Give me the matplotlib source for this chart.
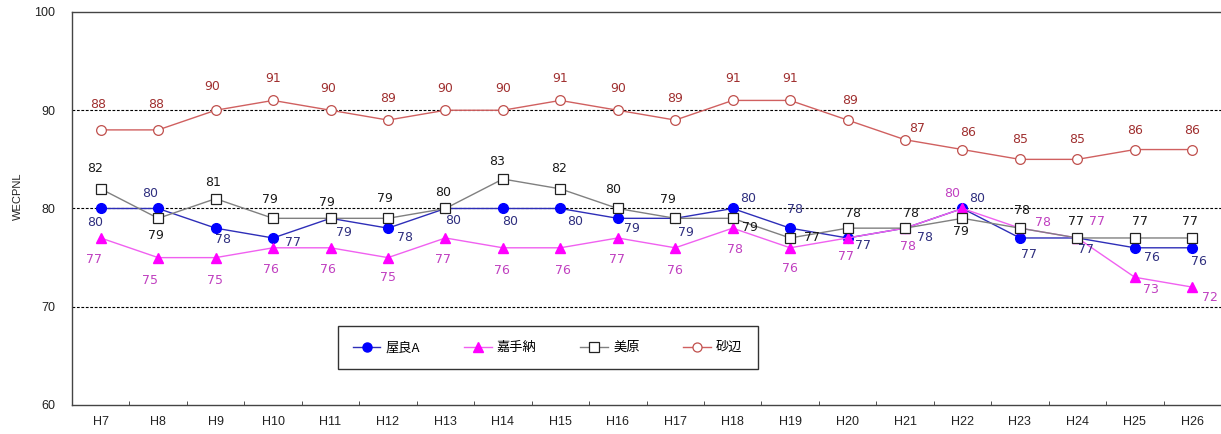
import matplotlib
matplotlib.use('Agg')
import matplotlib.pyplot as plt

plt.rcParams['font.family'] = ['Liberation Sans', 'Noto Sans CJK JP', 'DejaVu Sans']

# years (Heisei)
years = ['H7', 'H8', 'H9', 'H10', 'H11', 'H12', 'H13', 'H14', 'H15', 'H16',
         'H17', 'H18', 'H19', 'H20', 'H21', 'H22', 'H23', 'H24', 'H25', 'H26']

# WECPNL values per site
yara_a = [80, 80, 78, 77, 79, 78, 80, 80, 80, 79, 79, 80, 78, 77, 78, 80, 77, 77, 76, 76]
kadena = [77, 75, 75, 76, 76, 75, 77, 76, 76, 77, 76, 78, 76, 77, 78, 80, 78, 77, 73, 72]
mihara = [82, 79, 81, 79, 79, 79, 80, 83, 82, 80, 79, 79, 77, 78, 78, 79, 78, 77, 77, 77]
sunabe = [88, 88, 90, 91, 90, 89, 90, 90, 91, 90, 89, 91, 91, 89, 87, 86, 85, 85, 86, 86]

# label offsets in pixels (dx, dy), dy positive = up
off_yara = [(-6, -14), (-8, 15), (7, -11), (20, -5), (13, -14), (17, -9), (8, -12), (7, -13),
            (15, -13), (14, -10), (11, -14), (15, 10), (5, 19), (15, -8), (20, -9), (15, 10),
            (9, -17), (9, -12), (17, -10), (7, -14)]
off_kadena = [(-7, -22), (-8, -23), (-1, -23), (-2, -22), (-3, -22), (0, -20), (-2, -22), (-1, -23),
              (3, -23), (-1, -22), (0, -23), (2, -21), (0, -21), (-2, -19), (3, -18), (-10, 15),
              (23, 6), (20, 16), (16, -12), (18, -10)]
off_mihara = [(-6, 20), (-2, -17), (-3, 16), (-3, 19), (-4, 16), (-3, 20), (-2, 16), (-6, 18),
              (-1, 20), (-5, 19), (-7, 19), (17, -9), (22, 0), (5, 15), (6, 15), (-2, -13),
              (2, 18), (-1, 16), (5, 16), (-2, 16)]
off_sunabe = [(-3, 25), (-2, 25), (-3, 24), (0, 22), (-2, 22), (0, 22), (0, 22), (0, 22),
              (0, 22), (0, 22), (0, 22), (0, 22), (0, 22), (2, 20), (12, 11), (6, 17),
              (0, 20), (0, 20), (0, 19), (0, 19)]

series = [
    ('屋良A', yara_a, off_yara, dict(color='#2E2EB8', marker='o', mfc='#0000FF', mec='#0000FF', ms=7), '#2F2F7F'),
    ('嘉手納', kadena, off_kadena, dict(color='#F060F0', marker='^', mfc='#FF00FF', mec='#FF00FF', ms=7), '#C040C0'),
    ('美原', mihara, off_mihara, dict(color='#808080', marker='s', mfc='white', mec='#222222', ms=7.5, mew=0.9), '#1A1A1A'),
    ('砂辺', sunabe, off_sunabe, dict(color='#D06060', marker='o', mfc='white', mec='#C0504D', ms=7, mew=0.9), '#A03030'),
]

fig = plt.figure(figsize=(12.21, 4.34), dpi=100)
ax = fig.add_axes([72 / 1221, (434 - 405) / 434, 1 - 72 / 1221, 393 / 434])

x = list(range(len(years)))
for name, vals, offs, style, lc in series:
    ax.plot(x, vals, lw=1.0, label=name, **style)
    for xi, v, (dx, dy) in zip(x, vals, offs):
        ax.annotate(str(v), (xi, v), xytext=(dx, dy), textcoords='offset pixels',
                    ha='center', va='center', fontsize=9, color=lc,
                    family=['Liberation Sans Narrow', 'DejaVu Sans'], clip_on=False)

for g in [70, 80, 90]:
    ax.axhline(g, color='black', lw=0.8, ls=(0, (2.5, 1.5)), zorder=0)

ax.set_xlim(-0.5, len(years) - 0.5)
ax.set_ylim(60, 100)
ax.set_yticks([60, 70, 80, 90, 100])
ax.set_xticks(x)
ax.set_xticklabels(years)
ax.set_xticks([i + 0.5 for i in x[:-1]], minor=True)
ax.tick_params(axis='x', which='major', length=0, labelsize=9, pad=8, colors='#222222')
ax.tick_params(axis='x', which='minor', length=3, direction='in', color='#333333')
ax.tick_params(axis='y', length=0, labelsize=9, pad=12, colors='#222222')
ax.set_ylabel('WECPNL', fontsize=8, color='#222222')
ax.yaxis.set_label_coords(-0.043, 0.532)

ax.spines['right'].set_visible(False)
for s in ['left', 'bottom', 'top']:
    ax.spines[s].set_color('#444444')
    ax.spines[s].set_linewidth(1.0)

leg = ax.legend(loc='center', bbox_to_anchor=(0.414, 0.146), ncol=4,
                frameon=True, fancybox=False, edgecolor='black', handlelength=2.1,
                columnspacing=3.3, handletextpad=0.4, borderpad=1.15,
                prop={'family': ['Noto Sans CJK JP', 'DejaVu Sans'], 'size': 9.5})
leg.get_frame().set_linewidth(1.0)
for h in leg.legend_handles:
    h.set_markersize(6.5)

fig.savefig('out.png', dpi=100)
